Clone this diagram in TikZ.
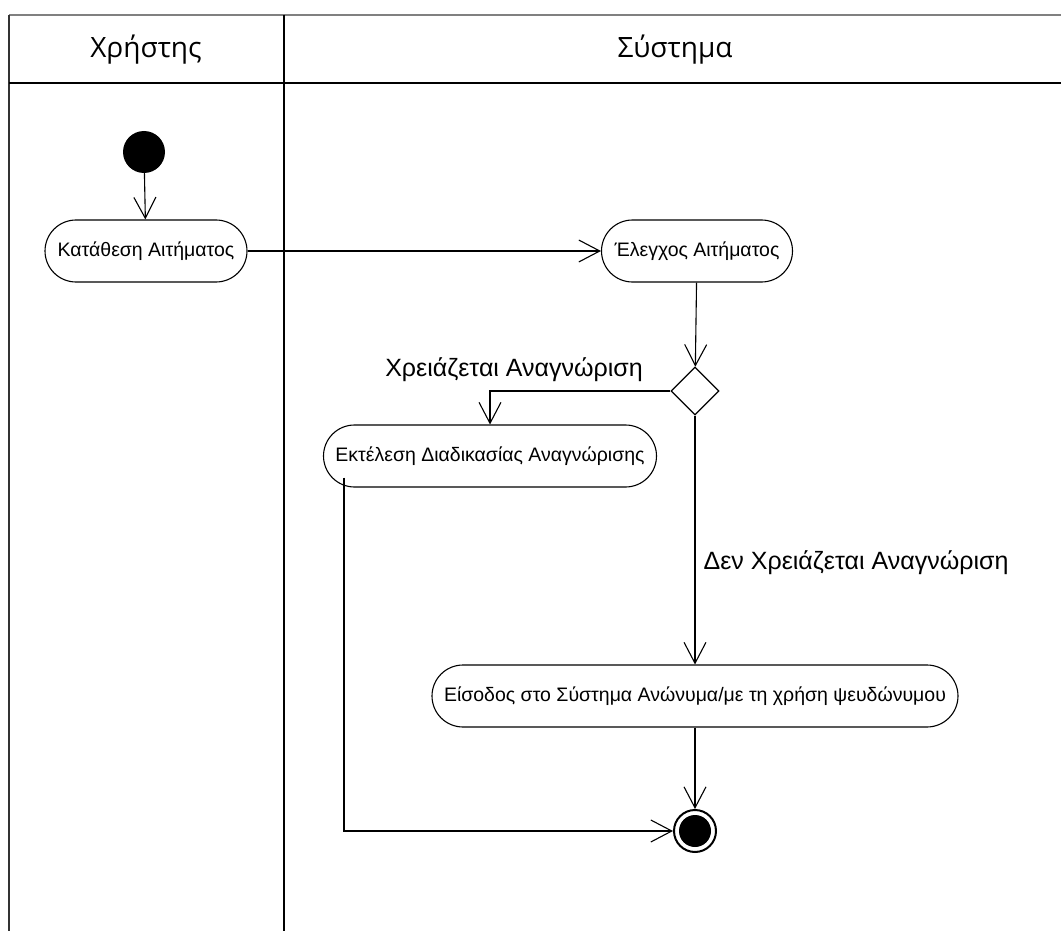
\documentclass[tikz,border=0pt]{standalone}
\usepackage{fontspec}
\setmainfont{Liberation Sans}
\newfontfamily\headfont{Open Sans}
\usetikzlibrary{arrows.meta,shapes.geometric}
\begin{document}
\begin{tikzpicture}[x=1pt,y=-1pt,
  action/.style={draw,line width=1.1pt,rounded corners=31pt,minimum height=62pt,
    inner xsep=4pt,font=\fontsize{19.5}{23}\selectfont},
  flow/.style={line width=1.1pt,-{Straight Barb[length=21pt,width=22pt,line width=1.1pt]}},
  lane/.style={line width=2pt},
  guard/.style={font=\fontsize{25}{29}\selectfont},
  header/.style={font=\headfont\fontsize{28}{32}\selectfont}]
\useasboundingbox (0,0) rectangle (1061,931);

% swimlane frame
\draw[line width=2.2pt,black!50] (9,15) -- (1061,15);
\draw[lane,black!80] (9,15) -- (9,931);
\draw[lane] (284,15) -- (284,931);
\draw[line width=1.8pt] (9,83) -- (1061,83);
\node[header] (hUser) at (146,50) {Χρήστης};
\node[header] (hSys) at (675,50) {Σύστημα};

% nodes
\node[circle,fill=black,minimum size=42pt,inner sep=0pt] (start) at (144,152) {};
\node[action,minimum width=202pt] (submit) at (146,251) {Κατάθεση Αιτήματος};
\node[action,minimum width=191pt] (check) at (697,251) {Έλεγχος Αιτήματος};
\node[diamond,draw,line width=1.3pt,minimum size=48pt,inner sep=0pt,aspect=1] (dec) at (695,391) {};
\node[action,minimum width=333pt] (ident) at (490,456) {Εκτέλεση Διαδικασίας Αναγνώρισης};
\node[action,minimum width=526pt] (enter) at (695,696) {Είσοδος στο Σύστημα Ανώνυμα/με τη χρήση ψευδώνυμου};
\node[circle,draw,line width=2pt,minimum size=42pt,inner sep=0pt] (final) at (695,831) {};
\fill (final.center) circle (16pt);

% guards
\node[guard] (gYes) at (514,370) {Χρειάζεται Αναγνώριση};
\node[guard] (gNo) at (856,563) {Δεν Χρειάζεται Αναγνώριση};

% transitions
\draw[flow] (start) -- (submit);
\draw[flow] (submit) -- (check);
\draw[flow] (check) -- (dec);
\draw[flow] (dec.west) -| (ident.north);
\draw[flow] (dec.south) -- (enter.north);
\draw[flow] (enter) -- (final);
\draw[flow] ([xshift=21pt,yshift=10pt]ident.south west) |- (final.west);
\end{tikzpicture}
\end{document}
